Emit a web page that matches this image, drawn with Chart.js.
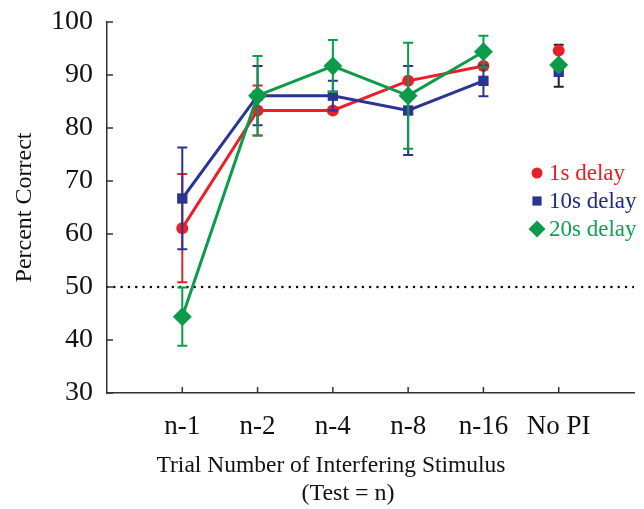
<!DOCTYPE html>
<html>
<head>
<meta charset="utf-8">
<script src="https://cdn.jsdelivr.net/npm/chart.js@4.4.1/dist/chart.umd.min.js"></script>
<style>
  html, body { margin: 0; padding: 0; background: #fff; }
  #wrap { width: 644px; height: 509px; }
</style>
</head>
<body>
<div id="wrap"><canvas id="grafico"></canvas></div>
<script>
// categorias e valores
const categories = ['n-1', 'n-2', 'n-4', 'n-8', 'n-16', 'No PI'];
const xPositions = [1, 2, 3, 4, 5, 6];
const yTicks = [30, 40, 50, 60, 70, 80, 90, 100];
const xTitleLines = ['Trial Number of Interfering Stimulus', '(Test = n)'];

const delay1s = [61.1, 83.3, 83.3, 88.9, 91.7, 94.6];
const delay10s = [66.7, 86.1, 86.1, 83.3, 88.9, 90.6];
const delay20s = [44.4, 86.1, 91.7, 86.1, 94.4, 91.9];

const err1s = [10.2, 4.7, 0, 0, 0, 0];
const err10s = [9.6, 5.6, 2.8, 8.4, 2.9, 0];
const err20s = [5.5, 7.5, 4.9, 10.0, 3.0, 0];

const noPiMean = 91.75;
const noPiErr = 3.95;
const chanceLevel = 50;

const SERIF = '"Liberation Serif", "Times New Roman", serif';
const RED = '#e8202a';
const BLUE = '#2b3590';
const GREEN = '#0c9b4b';

const toPoints = vals => vals.map((v, i) => ({ x: xPositions[i], y: v }));
const hideLast = c => c.p1DataIndex === 5 ? 'rgba(0,0,0,0)' : undefined;

const errorBarPlugin = {
    id: 'errorBars',
    beforeDatasetDraw(chart, args) {
        const ds = chart.data.datasets[args.index];
        if (!ds.errorBars) return;
        const { ctx, scales: { x, y } } = chart;
        ctx.save();
        ctx.strokeStyle = ds.errorColor || ds.borderColor;
        ctx.lineWidth = 2;
        ds.data.forEach((pt, i) => {
            const e = ds.errorBars[i];
            if (!e) return;
            const px = x.getPixelForValue(pt.x);
            const top = y.getPixelForValue(pt.y + e);
            const bot = y.getPixelForValue(pt.y - e);
            ctx.beginPath();
            ctx.moveTo(px, top); ctx.lineTo(px, bot);
            ctx.moveTo(px - 5, top); ctx.lineTo(px + 5, top);
            ctx.moveTo(px - 5, bot); ctx.lineTo(px + 5, bot);
            ctx.stroke();
        });
        ctx.restore();
    }
};

// ticks para dentro do eixo + titulo do eixo x
const axisExtras = {
    id: 'axisExtras',
    afterDraw(chart) {
        const { ctx, chartArea, scales: { x, y } } = chart;
        ctx.save();
        ctx.strokeStyle = '#333';
        ctx.lineWidth = 1.5;
        ctx.beginPath();
        yTicks.forEach(v => {
            const py = y.getPixelForValue(v);
            ctx.moveTo(chartArea.left, py);
            ctx.lineTo(chartArea.left + 6, py);
        });
        xPositions.forEach(v => {
            const px = x.getPixelForValue(v);
            ctx.moveTo(px, chartArea.bottom);
            ctx.lineTo(px, chartArea.bottom - 6);
        });
        ctx.stroke();

        ctx.fillStyle = '#111';
        ctx.textAlign = 'center';
        ctx.textBaseline = 'middle';
        ctx.font = '23.5px ' + SERIF;
        ctx.fillText(xTitleLines[0], chartArea.left + 224, chartArea.bottom + 73);
        ctx.font = '24px ' + SERIF;
        ctx.fillText(xTitleLines[1], chartArea.left + 241, chartArea.bottom + 101);
        ctx.restore();
    }
};

const inlineLegend = {
    id: 'inlineLegend',
    afterDraw(chart) {
        const { ctx } = chart;
        const items = chart.data.datasets.filter(d => d.legendRow !== undefined);
        ctx.save();
        ctx.font = '23px ' + SERIF;
        ctx.textBaseline = 'middle';
        items.forEach(d => {
            const ly = 173 + d.legendRow * 28;
            ctx.fillStyle = d.backgroundColor;
            ctx.strokeStyle = d.backgroundColor;
            const r = d.pointStyle === 'circle' ? 5.5 : d.pointStyle === 'rect' ? 6.5 : 8.5;
            Chart.helpers.drawPoint(ctx, { pointStyle: d.pointStyle, radius: r, borderWidth: 0 }, 537, ly);
            ctx.fillStyle = d.legendColor;
            ctx.fillText(d.label, 549, ly + 1);
        });
        ctx.restore();
    }
};

const ctx = document.getElementById('grafico').getContext('2d');

// grade invisivel, so para afastar os rotulos do eixo
const hiddenGrid = len => ({
    display: true,
    drawOnChartArea: false,
    drawTicks: true,
    tickLength: len,
    tickColor: 'rgba(0,0,0,0)'
});

new Chart(ctx, {
    type: 'line',
    data: {
        datasets: [
            {
                label: 'No PI',
                data: [{ x: 6, y: noPiMean }],
                errorBars: [noPiErr],
                errorColor: '#222',
                borderColor: '#222',
                pointRadius: 0,
                showLine: false,
                order: 10
            },
            {
                label: '1s delay',
                data: toPoints(delay1s),
                errorBars: err1s,
                borderColor: RED,
                backgroundColor: RED,
                legendColor: '#ed1c24',
                legendRow: 0,
                borderWidth: 3,
                pointStyle: 'circle',
                pointRadius: 6,
                pointBorderWidth: 0,
                segment: { borderColor: hideLast },
                order: 3
            },
            {
                label: '10s delay',
                data: toPoints(delay10s),
                errorBars: err10s,
                borderColor: BLUE,
                backgroundColor: BLUE,
                legendColor: '#1f2a86',
                legendRow: 1,
                borderWidth: 3,
                pointStyle: 'rect',
                pointRadius: 7.3,
                pointBorderWidth: 0,
                segment: { borderColor: hideLast },
                order: 2
            },
            {
                label: '20s delay',
                data: toPoints(delay20s),
                errorBars: err20s,
                borderColor: GREEN,
                backgroundColor: GREEN,
                legendColor: '#10a050',
                legendRow: 2,
                borderWidth: 3,
                pointStyle: 'rectRot',
                pointRadius: 9.5,
                pointBorderWidth: 0,
                segment: { borderColor: hideLast },
                order: 1
            },
            {
                label: 'chance',
                data: [{ x: 0, y: chanceLevel }, { x: 7, y: chanceLevel }],
                borderColor: '#000',
                borderWidth: 2.5,
                borderDash: [0.01, 7.3],
                borderCapStyle: 'round',
                pointRadius: 0,
                order: 20
            }
        ]
    },
    options: {
        responsive: true,
        maintainAspectRatio: false,
        animation: false,
        layout: { padding: { top: 22, right: 10, left: 0, bottom: 0 } },
        plugins: {
            legend: { display: false },
            tooltip: { enabled: false }
        },
        scales: {
            x: {
                type: 'linear',
                min: 0,
                max: 7,
                grid: hiddenGrid(18),
                border: { color: '#333', width: 1.5 },
                ticks: {
                    stepSize: 1,
                    autoSkip: false,
                    maxRotation: 0,
                    padding: 0,
                    color: '#111',
                    font: { family: SERIF, size: 27 },
                    callback: v => categories[v - 1] ?? ''
                },
                afterFit: s => { s.height = 116; }
            },
            y: {
                min: 30,
                max: 100,
                grid: hiddenGrid(14),
                border: { color: '#333', width: 1.5 },
                ticks: {
                    stepSize: 10,
                    padding: 0,
                    color: '#111',
                    font: { family: SERIF, size: 28 }
                },
                title: {
                    display: true,
                    text: 'Percent Correct',
                    color: '#111',
                    font: { family: SERIF, size: 24 },
                    padding: { top: 10, bottom: 0 }
                },
                afterFit: s => { s.width = 107; }
            }
        }
    },
    plugins: [errorBarPlugin, axisExtras, inlineLegend]
});
</script>
</body>
</html>
